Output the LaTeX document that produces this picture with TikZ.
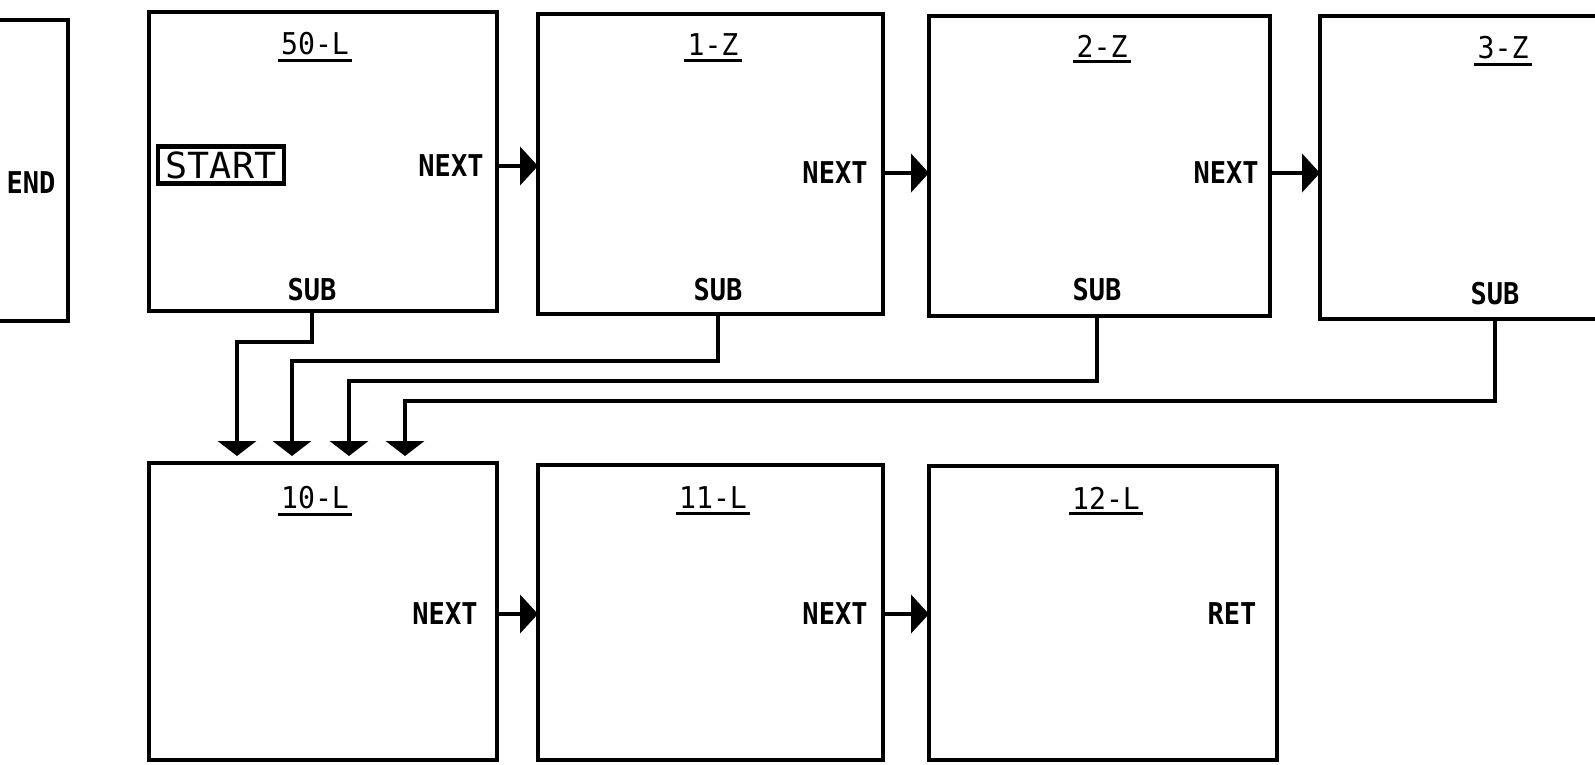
\documentclass[tikz,border=0pt]{standalone}
\usepackage{fontspec}
\usetikzlibrary{arrows.meta,calc}
\newfontfamily\plotfont[FakeStretch=0.9]{DejaVu Sans Mono Bold}
\newfontfamily\titlefont[FakeStretch=0.94]{DejaVu Sans Mono}
\newfontfamily\startfont[FakeStretch=1.02]{DejaVu Sans Mono}
\begin{document}
\begin{tikzpicture}[x=1pt,y=-1pt,
  box/.style={draw, line width=4.8pt, inner sep=0pt, outer sep=0pt, anchor=north west},
  lbl/.style={font=\plotfont\fontsize{30}{30}\selectfont, inner sep=0pt},
  ttl/.style={font=\titlefont\fontsize{30}{30}\selectfont, inner sep=0pt},
  uline/.style={line width=3pt},
  conn/.style={line width=4.8pt, -{Triangle[width=38pt,length=18pt]}},
  drop/.style={line width=4.8pt, -{Triangle[width=38pt,length=15pt]}, shorten >=7pt}]
\useasboundingbox (0,0) rectangle (1595,764);
\clip (0,0) rectangle (1595,764);
% boxes
\node[box, anchor=north east, minimum width=120pt, minimum height=301pt] (bend) at (68,20) {};
\node[box, minimum width=348pt, minimum height=299pt] (b50) at (149,12) {};
\node[box, minimum width=345pt, minimum height=300pt] (b1) at (538,14) {};
\node[box, minimum width=341pt, minimum height=300pt] (b2) at (929,16) {};
\node[box, minimum width=320pt, minimum height=303pt] (b3) at (1320,16) {};
\node[box, minimum width=348pt, minimum height=297pt] (b10) at (149,463) {};
\node[box, minimum width=345pt, minimum height=295pt] (b11) at (538,465) {};
\node[box, minimum width=348pt, minimum height=294pt] (b12) at (929,466) {};
% texts
\node[lbl] (tend) at (31,183) {END};
\node[draw, line width=4.5pt, inner sep=0pt, minimum width=126pt, minimum height=37pt,
      font=\startfont\fontsize{36}{36}\selectfont] (st) at (221,165) {START};
\node[ttl] (t50) at (315,44) {50-L};
\node[ttl] (t1) at (713,45) {1-Z};
\node[ttl] (t2) at (1102,46) {2-Z};
\node[ttl] (t3) at (1503,48) {3-Z};
\node[ttl] (t10) at (315,498) {10-L};
\node[ttl] (t11) at (713,498) {11-L};
\node[ttl] (t12) at (1106,498) {12-L};
\foreach \t in {t50,t1,t2,t3,t10,t11,t12}
  \draw[uline] ($(\t.south west)+(-3,4.5)$) -- ($(\t.south east)+(3,4.5)$);
\node[lbl] (n50) at (451,166) {NEXT};
\node[lbl] (n1) at (835,173) {NEXT};
\node[lbl] (n2) at (1226,173) {NEXT};
\node[lbl] (n10) at (445,614) {NEXT};
\node[lbl] (n11) at (835,614) {NEXT};
\node[lbl] (r12) at (1232,614) {RET};
\node[lbl] (s50) at (312,290) {SUB};
\node[lbl] (s1) at (718,290) {SUB};
\node[lbl] (s2) at (1097,290) {SUB};
\node[lbl] (s3) at (1495,294) {SUB};
% next arrows
\draw[conn] (b50.east |- n50) -- (b1.west |- n50);
\draw[conn] (b1.east |- n1) -- (b2.west |- n1);
\draw[conn] (b2.east |- n2) -- (b3.west |- n2);
\draw[conn] (b10.east |- n10) -- (b11.west |- n10);
\draw[conn] (b11.east |- n11) -- (b12.west |- n11);
% sub connectors
\coordinate (h1) at (237,342);
\coordinate (h2) at (292,361);
\coordinate (h3) at (349,381);
\coordinate (h4) at (405,401);
\draw[drop] (s50 |- b50.south) |- (h1) -- (h1 |- b10.north);
\draw[drop] (s1 |- b1.south) |- (h2) -- (h2 |- b10.north);
\draw[drop] (s2 |- b2.south) |- (h3) -- (h3 |- b10.north);
\draw[drop] (s3 |- b3.south) |- (h4) -- (h4 |- b10.north);
\end{tikzpicture}
\end{document}
